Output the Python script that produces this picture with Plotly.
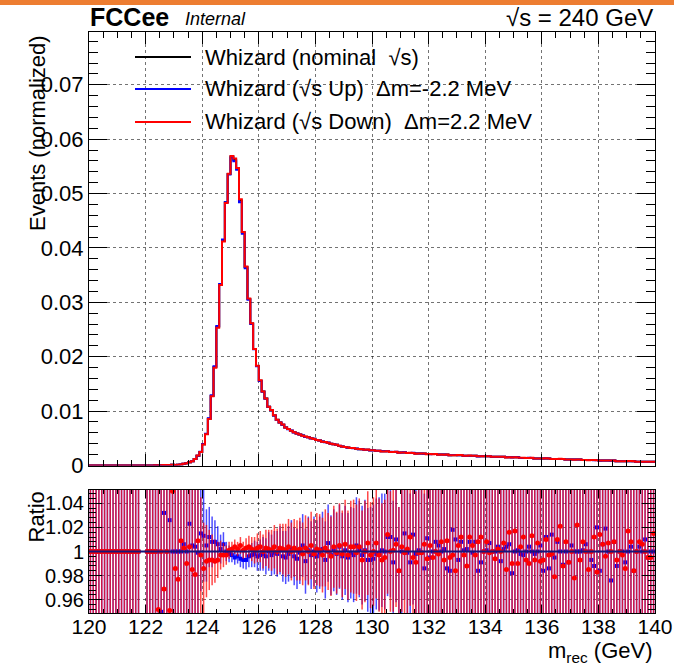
import plotly.graph_objects as go

# ---------------- data ----------------
x_low = 120.0
bin_width = 0.1

nominal = [
    0.00001, 0.00001, 0.00001, 0.00001, 0.00001, 0.00001, 0.00001, 0.00001, 0.00001, 0.00001,
    0.00001, 0.00001, 0.00001, 0.00001, 0.00001, 0.00001, 0.00001, 0.00001, 0.0, 0.0,
    0.00001, 0.00002, 0.00002, 0.00003, 0.00004, 0.00005, 0.00008, 0.0001, 0.0001, 0.00012,
    0.0001, 0.00015, 0.0002, 0.0003, 0.0004, 0.0006, 0.0008, 0.0012, 0.0018, 0.0025,
    0.0039, 0.0058, 0.0086, 0.0128, 0.0181, 0.0255, 0.0333, 0.0413, 0.0484, 0.0536,
    0.0568, 0.0562, 0.0546, 0.0487, 0.0429, 0.0365, 0.0306, 0.0261, 0.0214, 0.0183,
    0.0156, 0.0136, 0.0123, 0.0108, 0.0102, 0.0092, 0.0084, 0.0079, 0.0075, 0.0070,
    0.0067, 0.0064, 0.0061, 0.0059, 0.0057, 0.0055, 0.0053, 0.0052, 0.0050, 0.0049,
    0.0047, 0.0046, 0.0044, 0.0043, 0.0042, 0.0040, 0.0039, 0.0038, 0.0036, 0.0035,
    0.0034, 0.0033, 0.0032, 0.0032, 0.0031, 0.0030, 0.0030, 0.0029, 0.0029, 0.0028,
    0.0028, 0.0027, 0.0027, 0.0026, 0.0026, 0.0026, 0.0025, 0.0025, 0.0025, 0.0024,
    0.0024, 0.0024, 0.0023, 0.0023, 0.0023, 0.0022, 0.0022, 0.0022, 0.0022, 0.0021,
    0.0021, 0.0021, 0.0021, 0.0020, 0.0020, 0.0020, 0.0020, 0.0019, 0.0019, 0.0019,
    0.0019, 0.0019, 0.0018, 0.0018, 0.0018, 0.0018, 0.0018, 0.0017, 0.0017, 0.0017,
    0.0017, 0.0017, 0.0016, 0.0016, 0.0016, 0.0016, 0.0016, 0.0015, 0.0015, 0.0015,
    0.0015, 0.0015, 0.0014, 0.0014, 0.0014, 0.0014, 0.0014, 0.0013, 0.0013, 0.0013,
    0.0013, 0.0013, 0.0013, 0.0012, 0.0012, 0.0012, 0.0012, 0.0012, 0.0011, 0.0011,
    0.0011, 0.0011, 0.0011, 0.0011, 0.0010, 0.0010, 0.0010, 0.0010, 0.0010, 0.0010,
    0.0009, 0.0009, 0.0009, 0.0009, 0.0009, 0.0009, 0.0008, 0.0008, 0.0008, 0.0008,
    0.0008, 0.0008, 0.0008, 0.0007, 0.0007, 0.0007, 0.0007, 0.0007, 0.0007, 0.0007,
]

ratio_up = [
    1, 1, 1, 1, 1, 1, 1, 1, 1, 1,
    1, 1, 1, 1, 1, 1, 1, 1, None, None,
    1, 1, 1, 1, 1, 0.950, 1.032, 1, 1.026, 1,
    1, 1, 1, 1.006, 1.0, 1.023, 1.005, 1.004, 0.999, 1.015,
    1.013, 1.005, 1.012, 1.008, 1.008, 1.006, 1.002, 1.006, 1.000, 0.998,
    0.997, 0.995, 0.996, 0.994, 0.993, 0.993, 0.996, 0.997, 0.998, 0.996,
    0.997, 0.998, 0.996, 1.000, 0.997, 0.999, 0.998, 1.001, 0.996, 0.995,
    0.998, 1.002, 0.996, 0.994, 0.999, 1.005, 0.992, 1.001, 0.997, 1.000,
    0.996, 0.999, 1.002, 0.993, 1.007, 0.997, 1.001, 0.998, 1.004, 0.996,
    1.001, 0.995, 0.999, 0.997, 1.005, 1.002, 0.997, 1.001, 0.993, 0.993,
    0.994, 0.998, 0.998, 1.001, 1.000, 1.012, 1.012, 0.991, 1.010, 0.984,
    1.000, 1.015, 0.999, 0.991, 1.014, 0.998, 1.001, 0.999, 0.986, 1.011,
    0.995, 1.000, 1.008, 1.005, 1.000, 1.002, 0.986, 0.984, 1.018, 1.010,
    0.993, 1.008, 1.001, 1.002, 1.008, 0.999, 1.008, 0.984, 0.991, 1.000,
    1.001, 1.007, 1.000, 1.000, 1.004, 0.992, 1.002, 1.004, 1.006, 0.982,
    1.000, 1.001, 0.998, 0.997, 1.000, 1.004, 1.000, 0.998, 1.000, 1.005,
    0.984, 1.012, 0.986, 1.014, 0.995, 1.008, 1.000, 0.989, 1.000, 0.991,
    1.005, 1.000, 1.000, 1.000, 1.001, 1.006, 1.000, 0.993, 0.988, 1.020,
    0.984, 1.006, 1.019, 1.000, 0.976, 1.008, 0.988, 1.000, 1.000, 0.991,
    1.000, 1.004, 0.984, 1.000, 1.004, 1.000, 1.010, 0.995, 1.000, 1.000,
]

ratio_down = [
    1, 1, 1, 1, 1, 1, 1, 1, 1, 1,
    1, 1, 1, 1, 1, 1, 1, 1, None, None,
    1, 1, 1, 1, 0.952, 1, 0.969, 1, 0.951, 1.050,
    0.986, 0.977, 1.009, 1.003, 0.990, 1.004, 0.985, 0.981, 1.009, 0.997,
    0.986, 0.992, 0.993, 0.993, 0.992, 0.993, 0.997, 0.997, 0.997, 1.001,
    1.002, 1.004, 1.002, 1.005, 1.001, 1.003, 1.004, 1.002, 1.001, 1.003,
    1.004, 1.000, 1.003, 1.002, 1.001, 1.004, 1.000, 1.003, 1.002, 1.001,
    1.004, 1.000, 1.003, 1.001, 1.002, 0.998, 1.003, 1.000, 1.005, 0.998,
    1.002, 1.001, 0.997, 1.003, 1.000, 0.996, 1.004, 0.999, 1.005, 0.998,
    1.006, 0.997, 1.004, 1.004, 0.999, 1.004, 0.993, 1.000, 1.007, 0.997,
    1.000, 1.007, 0.997, 0.993, 0.995, 1.014, 1.000, 1.001, 1.006, 0.984,
    1.004, 0.999, 1.002, 1.012, 0.995, 0.991, 0.999, 0.999, 1.006, 0.994,
    1.005, 0.995, 1.000, 0.998, 1.008, 0.993, 1.009, 0.995, 0.997, 0.984,
    1.005, 1.012, 0.997, 0.988, 1.012, 1.005, 0.997, 1.008, 1.012, 1.000,
    1.008, 0.999, 1.000, 0.994, 1.002, 1.000, 1.007, 0.985, 1.016, 0.990,
    1.017, 0.990, 1.004, 1.012, 0.993, 0.990, 1.013, 0.993, 1.007, 0.992,
    0.993, 1.010, 0.997, 0.998, 0.979, 1.010, 1.021, 0.988, 1.008, 0.991,
    1.000, 0.978, 1.022, 0.993, 1.008, 1.000, 0.985, 1.000, 1.012, 0.983,
    1.014, 1.006, 0.996, 1.007, 1.000, 1.008, 0.993, 1.000, 0.997, 0.986,
    1.017, 1.008, 0.984, 1.000, 1.008, 1.006, 1.000, 0.995, 0.995, 1.015,
]

ratio_err = [
    0.5, 0.5, 0.5, 0.5, 0.5, 0.5, 0.5, 0.5, 0.5, 0.5,
    0.5, 0.5, 0.5, 0.5, 0.5, 0.5, 0.5, 0.5, 0.5, 0.5,
    0.5, 0.5, 0.5, 0.5, 0.5, 0.5, 0.5, 0.5, 0.5, 0.5,
    0.4, 0.4, 0.3, 0.3, 0.2, 0.2, 0.15, 0.1, 0.06, 0.048,
    0.038, 0.030, 0.025, 0.021, 0.018, 0.015, 0.012, 0.010, 0.008, 0.007,
    0.006, 0.006, 0.006, 0.007, 0.007, 0.008, 0.009, 0.010, 0.011, 0.012,
    0.013, 0.014, 0.015, 0.016, 0.017, 0.018, 0.019, 0.020, 0.021, 0.022,
    0.023, 0.024, 0.024, 0.025, 0.026, 0.026, 0.027, 0.028, 0.028, 0.029,
    0.030, 0.030, 0.031, 0.032, 0.032, 0.033, 0.034, 0.034, 0.035, 0.036,
    0.037, 0.037, 0.038, 0.039, 0.040, 0.040, 0.041, 0.042, 0.043, 0.044,
    0.045, 0.046, 0.047, 0.047, 0.048, 0.049, 0.050, 0.051, 0.052, 0.053,
    0.054, 0.055, 0.056, 0.057, 0.058, 0.059, 0.060, 0.061, 0.062, 0.063,
    0.064, 0.065, 0.066, 0.067, 0.068, 0.069, 0.070, 0.071, 0.072, 0.073,
    0.074, 0.075, 0.076, 0.077, 0.078, 0.079, 0.080, 0.081, 0.082, 0.083,
    0.084, 0.085, 0.086, 0.087, 0.088, 0.089, 0.090, 0.091, 0.092, 0.093,
    0.094, 0.095, 0.096, 0.097, 0.098, 0.099, 0.100, 0.101, 0.102, 0.103,
    0.104, 0.105, 0.106, 0.107, 0.108, 0.109, 0.110, 0.111, 0.112, 0.113,
    0.114, 0.115, 0.116, 0.117, 0.118, 0.119, 0.120, 0.121, 0.122, 0.123,
    0.124, 0.125, 0.126, 0.127, 0.128, 0.129, 0.130, 0.131, 0.132, 0.133,
    0.134, 0.135, 0.136, 0.137, 0.138, 0.139, 0.140, 0.141, 0.142, 0.143,
]

legend_labels = [
    "Whizard (nominal  √s)",
    "Whizard (√s Up)  Δm=-2.2 MeV",
    "Whizard (√s Down)  Δm=2.2 MeV",
]
x_ticks = [120, 122, 124, 126, 128, 130, 132, 134, 136, 138, 140]
y_ticks = [0, 0.01, 0.02, 0.03, 0.04, 0.05, 0.06, 0.07]
ratio_ticks = [0.96, 0.98, 1.0, 1.02, 1.04]

# ---------------- derived ----------------
n = len(nominal)
edges = [round(x_low + i * bin_width, 3) for i in range(n + 1)]
centers = [round(x_low + (i + 0.5) * bin_width, 3) for i in range(n)]
hist_up = [v * r if r is not None else 0.0 for v, r in zip(nominal, ratio_up)]
hist_down = [v * r if r is not None else 0.0 for v, r in zip(nominal, ratio_down)]

FONT = "Liberation Sans, Arial, Helvetica, sans-serif"
W, H = 674, 666
ML, MR, MT, MB = 89, 19, 32, 53
PW, PH = W - ML - MR, H - MT - MB


def px_x(px):
    return (px - ML) / PW


def px_y(py):
    return (H - MB - py) / PH


main_bottom = px_y(465.5)
ratio_top = px_y(490)

fig = go.Figure()

colors = ["black", "#0000ff", "#ff0000"]
for vals, col, name in zip([nominal, hist_up, hist_down], colors, legend_labels):
    fig.add_trace(go.Scatter(
        x=edges, y=list(vals) + [vals[-1]], mode="lines", line_shape="hv",
        line=dict(color=col, width=2), name=name, showlegend=False,
        xaxis="x", yaxis="y"))

for rat, col, solid, sym, sz in [(ratio_up, "rgba(0,0,255,0.7)", "#0000ff", "square", 4),
                                  (ratio_down, "rgba(255,0,0,0.72)", "#ff0000", "circle", 5)]:
    fig.add_trace(go.Scatter(
        x=centers, y=rat, mode="markers",
        marker=dict(color=solid, size=sz, symbol=sym, line=dict(width=0)),
        error_y=dict(type="data", array=ratio_err, color=col, thickness=1.5, width=0),
        showlegend=False, xaxis="x2", yaxis="y2"))

grid = dict(showgrid=True, gridcolor="rgba(0,0,0,0.55)", gridwidth=1, griddash="dot")
axcommon = dict(showline=True, linecolor="black", linewidth=1, mirror="allticks",
                ticks="inside", tickcolor="black", zeroline=False, automargin=False)

fig.update_layout(
    width=W, height=H,
    margin=dict(l=ML, r=MR, t=MT, b=MB, pad=0),
    paper_bgcolor="white", plot_bgcolor="white",
    font=dict(family=FONT, color="black"),
    xaxis=dict(domain=[0, 1], anchor="y", range=[120, 140], tickvals=x_ticks,
               showticklabels=False, ticklen=12,
               minor=dict(dtick=0.5, tick0=120, ticks="inside", ticklen=6, tickcolor="black", showgrid=False),
               **grid, **axcommon),
    yaxis=dict(domain=[main_bottom, 1], anchor="x", range=[0, 0.0797], tickvals=y_ticks,
               ticktext=["0", "0.01", "0.02", "0.03", "0.04", "0.05", "0.06", "0.07"],
               ticklen=18, tickfont=dict(size=22),
               minor=dict(dtick=0.002, tick0=0, ticks="inside", ticklen=9, tickcolor="black", showgrid=False),
               **grid, **axcommon),
    xaxis2=dict(domain=[0, 1], anchor="y2", range=[120, 140], tickvals=x_ticks,
                tickfont=dict(size=21), ticklen=8, ticklabelstandoff=-5,
                minor=dict(dtick=0.5, tick0=120, ticks="inside", ticklen=4, tickcolor="black", showgrid=False),
                **grid, **axcommon),
    yaxis2=dict(domain=[0, ratio_top], anchor="x2", range=[0.949, 1.051], tickvals=ratio_ticks,
                ticktext=["0.96", "0.98", "1", "1.02", "1.04"], tickfont=dict(size=20), ticklen=13,
                minor=dict(dtick=0.004, tick0=0.96, ticks="inside", ticklen=7, tickcolor="black", showgrid=False),
                **grid, **axcommon),
)

shapes = [
    dict(type="rect", xref="paper", yref="paper", x0=px_x(-5), x1=px_x(680),
         y0=px_y(-2), y1=px_y(5), fillcolor="#ED7D31", line=dict(width=0), layer="above"),
    dict(type="line", xref="x2", yref="y2", x0=120, x1=140, y0=1, y1=1,
         line=dict(color="#15157a", width=2), layer="above"),
]
leg_y = [57, 89, 122]
for col, py in zip(colors, leg_y):
    shapes.append(dict(type="line", xref="paper", yref="paper", x0=px_x(135), x1=px_x(191),
                       y0=px_y(py), y1=px_y(py), line=dict(color=col, width=2)))
fig.update_layout(shapes=shapes)

ann = []
for lab, py in zip(legend_labels, leg_y):
    ann.append(dict(text=lab, xref="paper", yref="paper", x=px_x(203), y=px_y(py),
                    xanchor="left", yanchor="middle", showarrow=False, font=dict(size=22)))
ann += [
    dict(text="<b>FCCee</b>", xref="paper", yref="paper", x=px_x(88), y=px_y(17),
         xanchor="left", yanchor="middle", showarrow=False, font=dict(size=25)),
    dict(text="<i>Internal</i>", xref="paper", yref="paper", x=px_x(183), y=px_y(19),
         xanchor="left", yanchor="middle", showarrow=False, font=dict(size=18)),
    dict(text="√s = 240 GeV", xref="paper", yref="paper", x=1, y=px_y(17),
         xanchor="right", yanchor="middle", showarrow=False, font=dict(size=24)),
    dict(text="Events (normalized)", xref="paper", yref="paper", x=px_x(37), y=px_y(33),
         xanchor="center", yanchor="top", textangle=-90, showarrow=False, font=dict(size=22)),
    dict(text="Ratio", xref="paper", yref="paper", x=px_x(36), y=px_y(490),
         xanchor="center", yanchor="top", textangle=-90, showarrow=False, font=dict(size=22)),
    dict(text="m<sub>rec</sub> (GeV)", xref="paper", yref="paper", x=1, y=px_y(652),
         xanchor="right", yanchor="middle", showarrow=False, font=dict(size=22)),
]
fig.update_layout(annotations=ann)

fig.write_html("out.html")
